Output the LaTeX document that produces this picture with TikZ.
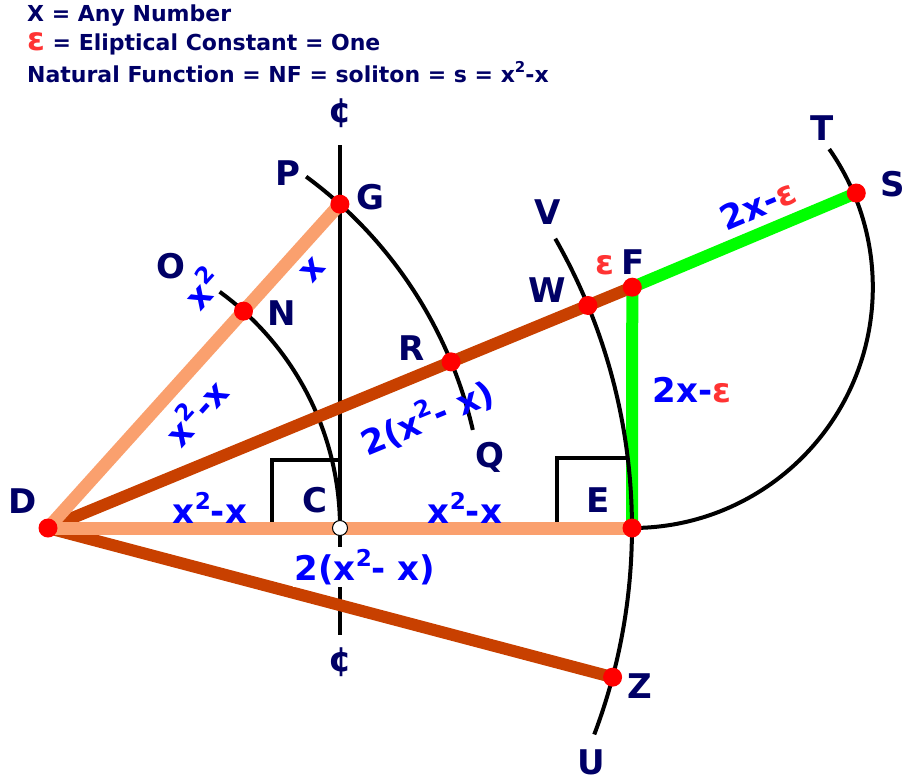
\documentclass[tikz,border=0pt]{standalone}
\usepackage{fontspec}
\setmainfont{DejaVu Sans}
\usepackage{graphicx}
\usepackage{tikz}
\usetikzlibrary{calc}
\usepackage{xcolor}
\definecolor{navy}{RGB}{0,0,102}
\definecolor{lenblue}{RGB}{0,0,255}
\definecolor{epsred}{RGB}{255,51,51}
\definecolor{peach}{RGB}{250,160,110}
\definecolor{rust}{RGB}{200,64,0}
\definecolor{lime}{RGB}{0,255,0}
\newcommand{\sq}{\raisebox{.42em}{\scalebox{.68}{2}}}

\begin{document}
\begin{tikzpicture}[x=1pt,y=-1pt,
    dot/.style={circle,fill=red,inner sep=0pt,minimum size=19pt},
    hole/.style={circle,draw=black,fill=white,line width=1pt,inner sep=0pt,minimum size=15pt},
    peachline/.style={draw=peach,line width=13pt},
    rustline/.style={draw=rust,line width=12pt},
    limeline/.style={draw=lime,line width=12pt},
    arcline/.style={draw=black,line width=4pt},
    pt/.style={text=navy,font=\fontsize{34}{36}\selectfont\bfseries,inner sep=0pt},
    len/.style={text=lenblue,font=\fontsize{34}{36}\selectfont\bfseries,inner sep=0pt},
    head/.style={text=navy,font=\fontsize{22}{24}\selectfont\bfseries,inner sep=0pt,anchor=west},
    eps/.style={text=epsred}]
    \useasboundingbox (0,0) rectangle (918,782);
    \coordinate (D) at (48,528);
    \coordinate (C) at (340,528);
    \coordinate (E) at (632,528);
    \coordinate (G) at ($(D)+(-47.97:436)$);
    \coordinate (N) at ($(D)+(-47.97:292)$);
    \coordinate (F) at ($(D)+(-22.4:632)$);
    \coordinate (R) at ($(D)+(-22.4:436)$);
    \coordinate (W) at ($(D)+(-22.4:584)$);
    \coordinate (S) at ($(F)+(-22.8:243)$);
    \coordinate (Z) at ($(D)+(14.8:584)$);
    \coordinate (ctop) at (340,145);
    \coordinate (cbot) at (340,635);

    \draw[limeline] (F) -- (E);
    \draw[limeline] (F) -- (S);
    \draw[arcline] (ctop) -- (cbot);
    \draw[arcline] (C) arc[start angle=0,end angle=-54,radius=292];
    \draw[arcline] ($(D)+(-13:436)$) arc[start angle=-13,end angle=-53.7,radius=436];
    \draw[arcline] ($(D)+(20.7:584)$) arc[start angle=20.7,end angle=-29.7,radius=584];
    \draw[arcline] (E) arc[start angle=90,end angle=-35,radius=240.8];
    \draw[arcline] ($(C)+(-68,0)$) |- ($(C)+(0,-68)$);
    \draw[arcline] ($(E)+(-75,0)$) |- ($(E)+(-6,-70)$);
    \draw[rustline] (D) -- (F);
    \draw[rustline] (D) -- (Z);
    \draw[peachline] (D) -- (G);
    \draw[peachline] (D) -- (E);

    \foreach \p in {D,E,F,G,N,R,S,W,Z}
      \node[dot] at (\p) {};
    \node[hole] at (C) {};

    \node[head] (hx) at (27,16) {X = Any Number};
    \node[head] (heps) at (27,44) {{\fontsize{32}{32}\selectfont\color{epsred}ε} = Eliptical Constant = One};
    \node[head] (hnf) at (27,72) {Natural Function = NF = soliton = s = x\sq-x};

    \node[pt] (ctopl) at (340,113) {¢};
    \node[pt] (cbotl) at (340,662) {¢};
    \node[pt] (Pl) at (288,173) {P};
    \node[pt] (Gl) at (370,197) {G};
    \node[pt] (Ol) at (171,266) {O};
    \node[pt] (Nl) at (282,313) {N};
    \node[pt] (Rl) at (412,348) {R};
    \node[pt] (Ql) at (490,457) {Q};
    \node[pt] (Vl) at (548,212) {V};
    \node[pt] (Wl) at (547,290) {W};
    \node[pt] (Fl) at (633,262) {F};
    \node[pt] (Sl) at (893,184) {S};
    \node[pt] (Tl) at (822,128) {T};
    \node[pt] (El) at (598,500) {E};
    \node[pt] (Cl) at (315,500) {C};
    \node[pt] (Dl) at (23,501) {D};
    \node[pt] (Zl) at (640,686) {Z};
    \node[pt] (Ul) at (591,762) {U};

    \node[len,rotate=48] (lsq) at (202,288) {x\sq};
    \node[len,rotate=48] (lx) at (313,270) {x};
    \node[len,rotate=48] (ldn) at (195,411) {x\sq-x};
    \node[len,rotate=22.4] (ldr) at (427,417) {2(x\sq- x)};
    \node[len] (ldc) at (210,508) {x\sq-x};
    \node[len] (lce) at (465,508) {x\sq-x};
    \node[len,fill=white,inner sep=2pt] (lde) at (365,567) {2(x\sq- x)};
    \node[len,rotate=23] (lfs) at (758,205) {2x-\textcolor{epsred}{ε}};
    \node[len] (lfe) at (692,390) {2x-\textcolor{epsred}{ε}};
    \node[len,eps] (lwf) at (605,265) {ε};
\end{tikzpicture}
\end{document}
